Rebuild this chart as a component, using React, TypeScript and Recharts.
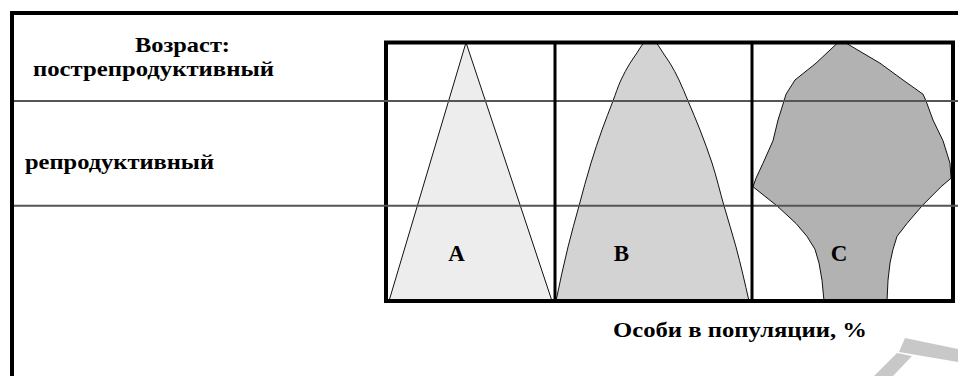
import React from 'react';
import {
  ComposedChart,
  Area,
  XAxis,
  YAxis,
  ReferenceLine,
  ReferenceArea,
} from 'recharts';

// Age levels (0 = youngest, 100 = oldest) and the left / right extent of each pyramid
// on the "share of individuals in the population" axis.
const ageA = [0, 100];
const leftA = [3, 80];
const rightA = [166, 80];

const ageB = [0, 20.9, 36.8, 53.4, 66.2, 77.4, 85.5, 92, 96, 99, 100];
const leftB = [170, 182, 193, 205, 216, 227, 235, 244, 251, 256, 258];
const rightB = [363, 350, 338, 326, 314, 302, 293, 284, 277, 272, 270];

const ageC = [0, 8, 14.7, 20, 25, 30, 36.8, 44.2, 47.5, 53.3, 62, 70, 77.4, 80, 85.5, 92, 100];
const leftC = [438, 436, 433, 429, 421, 410, 391, 367, 370, 377, 387, 392, 398, 400, 409, 430, 452];
const rightC = [501, 502, 504, 507, 511, 521, 536, 555, 565, 564, 557, 547, 540, 537, 517, 494, 459];

// Age-class boundaries (pre-reproductive | reproductive | post-reproductive)
const ageBounds = [36.8, 77.4];
// Panel boundaries on the x axis
const panelEdges = [0, 567];
const panelDividers = [169, 366];

const seriesLabels = ['A', 'B', 'C'];
const ageTitle = 'Возраст:';
const ageClassLabels = ['пострепродуктивный', 'репродуктивный'];
const xTitle = 'Особи в популяции, %';

const build = (ages: number[], left: number[], right: number[]) =>
  ages.map((age, i) => ({ age, range: [left[i], right[i]] }));

const dataA = build(ageA, leftA, rightA);
const dataB = build(ageB, leftB, rightB);
const dataC = build(ageC, leftC, rightC);

const FONT = "'Liberation Serif', 'Times New Roman', serif";

const Labels = () => (
  <svg
    width={958}
    height={376}
    style={{ position: 'absolute', left: 0, top: 0, pointerEvents: 'none' }}
  >
    <g fontFamily={FONT} fontWeight="bold" fill="#000">
      <text x={135} y={51.5} fontSize={21} textLength={95} lengthAdjust="spacingAndGlyphs">
        {ageTitle}
      </text>
      <text x={33} y={76} fontSize={21} textLength={241} lengthAdjust="spacingAndGlyphs">
        {ageClassLabels[0]}
      </text>
      <text x={25} y={169} fontSize={21} textLength={189} lengthAdjust="spacingAndGlyphs">
        {ageClassLabels[1]}
      </text>
      <text x={613} y={337} fontSize={21} textLength={254} lengthAdjust="spacingAndGlyphs">
        {xTitle}
      </text>
      <text x={456.5} y={261} fontSize={23} textAnchor="middle">{seriesLabels[0]}</text>
      <text x={621.5} y={261} fontSize={23} textAnchor="middle">{seriesLabels[1]}</text>
      <text x={839} y={261} fontSize={23} textAnchor="middle">{seriesLabels[2]}</text>
      <polygon points="905,338 958,349 958,362 899,352" fill="#c8c8c8" />
      <polygon points="897,353 912,356 893,376 874,376" fill="#c8c8c8" />
    </g>
  </svg>
);

export default function App() {
  return (
    <div
      style={{
        position: 'absolute',
        left: 0,
        top: 0,
        width: 958,
        height: 376,
        overflow: 'hidden',
        background: '#fff',
      }}
    >
      <div
        style={{
          position: 'absolute',
          left: 10,
          top: 11,
          width: 2000,
          height: 1000,
          borderLeft: '4px solid #000',
          borderTop: '4px solid #000',
        }}
      />
      <div style={{ position: 'absolute', left: 0, top: 0 }}>
        <ComposedChart
          layout="vertical"
          width={958}
          height={376}
          margin={{ top: 42.5, right: 0, bottom: 75, left: 14 }}
        >
          <XAxis type="number" domain={[-372, 572]} hide allowDataOverflow />
          <YAxis type="number" dataKey="age" domain={[0, 100]} reversed hide allowDataOverflow />
          <Area
            data={dataA}
            dataKey="range"
            type="linear"
            fill="#ededed"
            fillOpacity={1}
            stroke="#111"
            strokeWidth={1}
            isAnimationActive={false}
          />
          <Area
            data={dataB}
            dataKey="range"
            type="monotone"
            fill="#d3d3d3"
            fillOpacity={1}
            stroke="#111"
            strokeWidth={1}
            isAnimationActive={false}
          />
          <Area
            data={dataC}
            dataKey="range"
            type="linear"
            fill="#b2b2b2"
            fillOpacity={1}
            stroke="#111"
            strokeWidth={1}
            isAnimationActive={false}
          />
          {ageBounds.map((a) => (
            <ReferenceLine key={'g' + a} y={a} stroke="#555" strokeWidth={2} ifOverflow="visible" />
          ))}
          {panelDividers.map((x) => (
            <ReferenceLine key={'d' + x} x={x} stroke="#000" strokeWidth={3} />
          ))}
          <ReferenceArea
            x1={panelEdges[0]}
            x2={panelEdges[1]}
            y1={0}
            y2={100}
            fill="none"
            fillOpacity={0}
            stroke="#000"
            strokeWidth={4}
            ifOverflow="visible"
          />
        </ComposedChart>
      </div>
      <Labels />
    </div>
  );
}
